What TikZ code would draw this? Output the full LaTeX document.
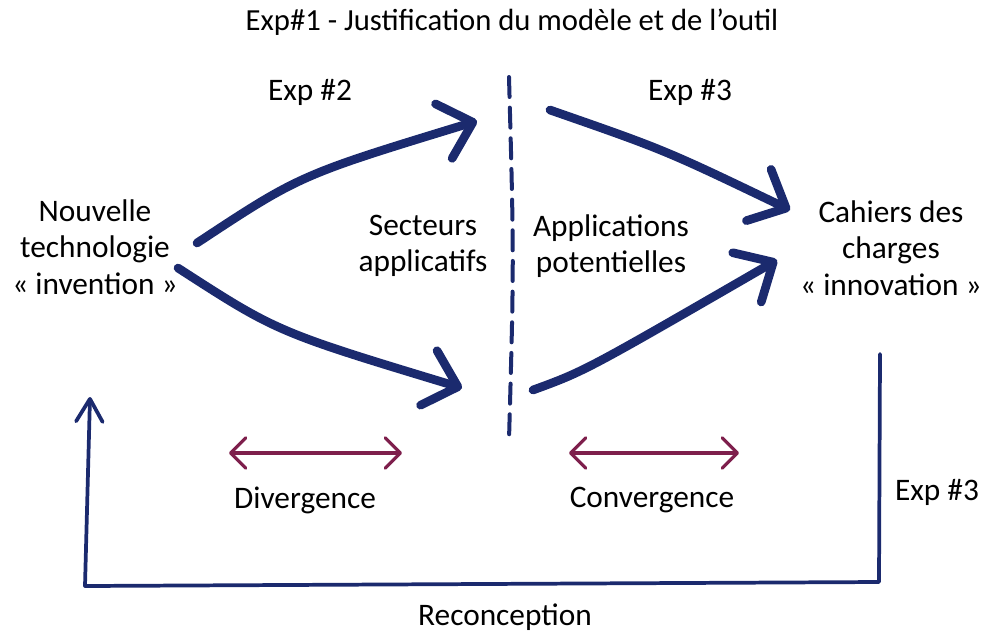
\documentclass[tikz,border=0pt]{standalone}
\usepackage{fontspec}
\setmainfont{Carlito}
\usetikzlibrary{positioning,arrows.meta}
\definecolor{navy}{HTML}{1B2A6E}
\definecolor{wine}{HTML}{7E1F4C}
\tikzset{
  txt/.style={font=\fontsize{23.5}{27.5}\selectfont,align=center,inner sep=0pt},
  titletxt/.style={font=\fontsize{23}{27}\selectfont,inner sep=0pt},
  flow/.style={-{Straight Barb[length=8mm,width=15mm,round]},draw=navy,line width=6.5pt,line cap=round},
  spread/.style={{Straight Barb[length=4mm,width=8mm,round]}-{Straight Barb[length=4mm,width=8mm,round]},draw=wine,line width=2.4pt,line cap=round},
  backloop/.style={-{Straight Barb[length=6mm,width=7mm,round]},draw=navy,line width=2.8pt,line join=round,line cap=round},
  split/.style={draw=navy,line width=3pt,dash pattern=on 15pt off 8pt,line cap=round}
}
\begin{document}
\begin{tikzpicture}[x=0.75pt,y=-0.75pt]
  \useasboundingbox (0,0) rectangle (982,633);
  % texts
  \node[titletxt] (title) at (512,22) {Exp\#1 - Justification du modèle et de l’outil};
  \node[txt] (techno) at (95,247) {Nouvelle\\technologie\\« invention »};
  \node[txt] (cdc) at (891,248) {Cahiers des\\charges\\« innovation »};
  \node[txt] (secteurs) at (423,246) {Secteurs\\applicatifs};
  \node[txt] (applis) at (611,246) {Applications\\potentielles};
  \node[txt] (exp2) at (310,92) {Exp \#2};
  \node[txt] (exp3a) at (690,92) {Exp \#3};
  \node[txt] (exp3b) at (937,492) {Exp \#3};
  \node[txt] (diverg) at (305,500) {Divergence};
  \node[txt] (converg) at (652,500) {Convergence};
  \node[txt] (reconc) at (505,617) {Reconception};
  % arrow ends
  \coordinate (upL0) at (197,243);
  \coordinate (upL1) at (477,121);
  \coordinate (loL0) at (178,268);
  \coordinate (loL1) at (462,388);
  \coordinate (upR0) at (550,110);
  \coordinate (upR1) at (790,210);
  \coordinate (loR0) at (533,390);
  \coordinate (loR1) at (777,260);
  \coordinate (cutT) at (509,77);
  \coordinate (cutB) at (509,440);
  \coordinate (divL) at (229,453);
  \coordinate (divR) at (402,453);
  \coordinate (conL) at (569,453);
  \coordinate (conR) at (739,453);
  \coordinate (fbA) at (880,354);
  \coordinate (fbB) at (879,582);
  \coordinate (fbC) at (85,586);
  \coordinate (fbD) at (90,397);
  % divergence / convergence
  \draw[flow] (upL0) .. controls (300,175) .. (upL1);
  \draw[flow] (loL0) .. controls (277,332) .. (loL1);
  \draw[flow] (upR0) .. controls (665,150) .. (upR1);
  \draw[flow] (loR0) .. controls (585,371) .. (loR1);
  \draw[split] (cutT) .. controls (514,260) .. (cutB);
  \draw[spread] (divL) -- (divR);
  \draw[spread] (conL) -- (conR);
  % reconception
  \draw[backloop] (fbA) -- (fbB) -- (fbC) -- (fbD);
\end{tikzpicture}
\end{document}
